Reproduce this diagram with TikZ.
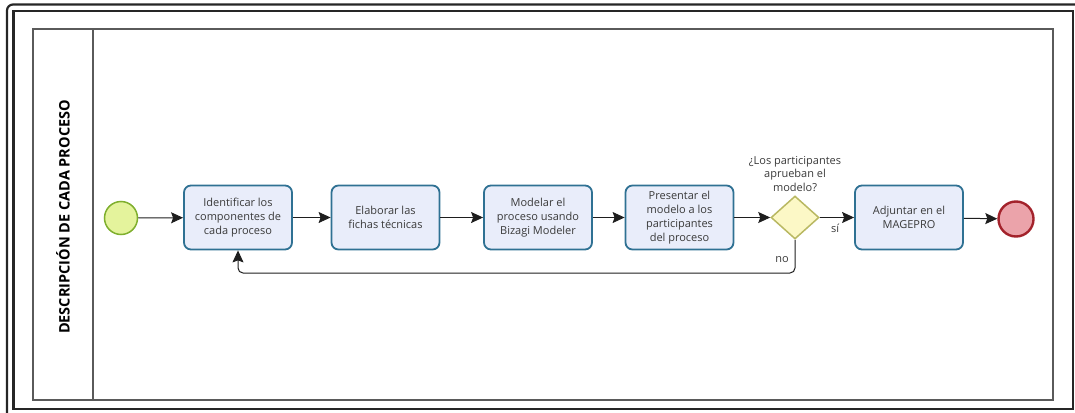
\documentclass[tikz,border=0pt]{standalone}
\usepackage{fontspec}
\setmainfont{Open Sans}
\usetikzlibrary{shapes.geometric,arrows.meta}

\definecolor{taskfill}{HTML}{E9EDFA}
\definecolor{taskline}{HTML}{2F7193}
\definecolor{startfill}{HTML}{E4F39C}
\definecolor{startline}{HTML}{7FAF2E}
\definecolor{endfill}{HTML}{EBA3AA}
\definecolor{endline}{HTML}{A3222B}
\definecolor{gatefill}{HTML}{FCF8C6}
\definecolor{gateline}{HTML}{B9B862}
\definecolor{frame}{HTML}{262626}
\definecolor{lane}{HTML}{5A5A5A}
\definecolor{flow}{HTML}{1E1E1E}
\definecolor{txt}{HTML}{3A3A3A}

\tikzset{
  task/.style={draw=taskline, fill=taskfill, line width=1.8pt, rounded corners=7pt,
    minimum width=108pt, minimum height=64pt, align=center, text=txt,
    font=\fontsize{11}{13.8}\selectfont, inner sep=1pt},
  startev/.style={circle, draw=startline, fill=startfill, line width=1.5pt, minimum size=33pt, inner sep=0pt},
  endev/.style={circle, draw=endline, fill=endfill, line width=2.4pt, minimum size=35pt, inner sep=0pt},
  gate/.style={diamond, draw=gateline, fill=gatefill, line width=1.5pt, minimum width=48pt, minimum height=43pt, inner sep=0pt},
  flowline/.style={draw=flow, line width=1pt, -{Stealth[length=12pt,width=11pt,inset=2pt]}},
  lbl/.style={text=txt, font=\fontsize{11}{13.8}\selectfont, align=center, inner sep=0pt},
}

\begin{document}
\begin{tikzpicture}[x=1pt, y=-1pt]
  \useasboundingbox (0,0) rectangle (1075,412);
  \clip (0,0) rectangle (1075,412);

  % page frames
  \draw[frame, line width=2.2pt, rounded corners=6pt] (7,4.5) rectangle (1095,430);
  \draw[frame, line width=2.6pt] (13.5,11) rectangle (1073,409);

  % pool and lane header
  \draw[lane, line width=1.4pt] (33,29) rectangle (1053,400);
  \draw[lane, line width=1.4pt] (93,29) -- (93,400);
  \node[rotate=90, font=\fontsize{14.5}{16}\selectfont\bfseries] (lanetitle) at (63,217) {DESCRIPCIÓN DE CADA PROCESO};

  % flow elements
  \node[startev] (start) at (121,218) {};
  \node[task] (t1) at (238,217.5) {Identificar los\\componentes de\\cada proceso};
  \node[task] (t2) at (385.5,217.5) {Elaborar las\\fichas técnicas};
  \node[task] (t3) at (538,217.5) {Modelar el\\proceso usando\\Bizagi Modeler};
  \node[task] (t4) at (679.5,217.5) {Presentar el\\modelo a los\\participantes\\del proceso};
  \node[gate] (g) at (795,217.5) {};
  \node[lbl, anchor=south] (q) at (795,192) {¿Los participantes\\aprueban el\\modelo?};
  \node[task] (t5) at (909,217.5) {Adjuntar en el\\MAGEPRO};
  \node[endev] (end) at (1016,219) {};

  % sequence flows
  \draw[flowline] (start) -- (t1);
  \draw[flowline] (t1) -- (t2);
  \draw[flowline] (t2) -- (t3);
  \draw[flowline] (t3) -- (t4);
  \draw[flowline] (t4) -- (g);
  \draw[flowline] (g) -- node[lbl, below=6pt, pos=0.45] (si) {sí} (t5);
  \draw[flowline] (t5) -- (end);
  \draw[flowline, rounded corners=5pt] (g.south) -- (795,273) -- (238,273) -- (t1.south);
  \node[lbl] (no) at (782,260) {no};
\end{tikzpicture}
\end{document}
